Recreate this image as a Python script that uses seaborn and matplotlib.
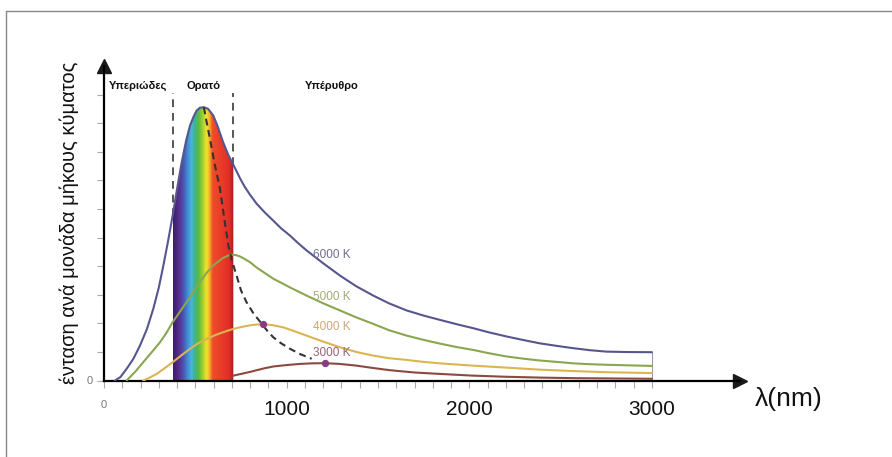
import numpy as np
import pandas as pd
import matplotlib.pyplot as plt
from matplotlib.colors import LinearSegmentedColormap
from matplotlib.lines import Line2D
import seaborn as sns

# wavelength (nm) / intensity readings (arbitrary units, 10 per y tick)
wl_6000 = [60, 90, 124, 160, 197, 235, 270, 300, 325, 350, 376, 400, 425, 450, 471, 490, 507, 525, 547,
           570, 598, 620, 653, 680, 708, 744, 770, 799, 836, 880, 927, 970, 1018, 1060, 1109, 1200,
           1292, 1380, 1474, 1560, 1657, 1750, 1839, 1930, 2021, 2110, 2204, 2300, 2386, 2480, 2569,
           2660, 2751, 2870, 3000]
int_6000 = [0, 1.2, 4.1, 7.5, 12.2, 18.0, 25.1, 32.5, 40.2, 48.5, 57.7, 67.0, 76.2, 84.0, 89.2, 92.2, 94.4, 95.4, 95.6,
            95.0, 92.7, 89.3, 83.2, 79.0, 75.5, 70.8, 67.8, 65.0, 61.8, 58.8, 55.9, 53.2, 50.7, 48.2, 45.5, 41.0,
            36.7, 33.0, 29.7, 27.0, 24.5, 22.7, 21.2, 19.7, 18.3, 16.8, 15.4, 14.1, 13.0, 12.1, 11.3,
            10.6, 10.1, 9.95, 9.9]

wl_5000 = [124, 170, 215, 260, 307, 340, 376, 415, 452, 490, 525, 560, 598, 650, 690, 720, 744, 770, 799,
           836, 880, 927, 1020, 1109, 1200, 1292, 1380, 1474, 1560, 1657, 1750, 1839, 1930, 2021, 2110,
           2204, 2300, 2386, 2480, 2569, 2660, 2751, 2870, 3000]
int_5000 = [0, 3.0, 6.4, 9.8, 13.4, 16.5, 20.4, 24.0, 27.4, 31.0, 34.4, 37.5, 40.2, 42.8, 44.0, 43.9, 43.4, 42.5, 41.4,
            39.5, 37.6, 35.6, 32.5, 29.7, 27.0, 24.5, 22.1, 19.8, 17.6, 15.7, 14.2, 12.9, 11.7, 10.7, 9.5,
            8.4, 7.6, 7.0, 6.5, 6.0, 5.7, 5.5, 5.3, 5.1]

wl_4000 = [215, 250, 288, 330, 376, 420, 471, 515, 562, 610, 653, 700, 744, 799, 840, 872, 920, 981, 1040,
           1109, 1200, 1292, 1380, 1474, 1560, 1657, 1750, 1839, 2021, 2204, 2386, 2569, 2751, 3000]
int_4000 = [0, 1.0, 2.3, 4.2, 6.4, 8.6, 11.1, 13.0, 14.6, 15.9, 16.9, 17.9, 18.6, 19.3, 19.6, 19.65, 19.4, 18.6, 17.3,
            15.7, 13.6, 11.6, 10.0, 8.7, 7.8, 7.2, 6.5, 6.0, 5.2, 4.5, 3.8, 3.3, 2.9, 2.6]

wl_3000 = [708, 750, 799, 836, 880, 927, 1000, 1073, 1140, 1210, 1290, 1383, 1470, 1565, 1700, 1839,
           2021, 2204, 2400, 2600, 2800, 3000]
int_3000 = [1.7, 2.3, 3.0, 3.6, 4.3, 4.9, 5.4, 5.8, 6.0, 6.05, 5.8, 5.2, 4.4, 3.6, 2.8, 2.3,
            1.7, 1.3, 1.0, 0.8, 0.7, 0.6]

# Wien displacement (dashed) line
wl_wien = [547, 560, 580, 605, 635, 660, 681, 700, 726, 750, 781, 820, 863, 895, 927, 970, 1018, 1075, 1137]
int_wien = [95.5, 91.0, 84.6, 76.0, 67.1, 56.0, 47.2, 42.0, 36.7, 31.5, 27.3, 23.3, 19.9, 17.3, 15.1, 13.0, 11.1, 9.2, 7.6]

temps = ["6000 K", "5000 K", "4000 K", "3000 K"]
line_colors = ["#56568f", "#8aa64e", "#dcb452", "#8c4a3e"]
label_colors = ["#6e6e90", "#a0aa72", "#cfa676", "#9a6272"]
label_y = [43.9, 29.3, 18.8, 9.5]

band_lo, band_hi = 376, 708
regions = ["Υπεριώδες", "Ορατό", "Υπέρυθρο"]
region_x = [186, 545, 1248]

x_ticks = [0, 1000, 2000, 3000]

df = pd.concat([
    pd.DataFrame({"wl": w, "I": i, "T": t})
    for w, i, t in zip([wl_6000, wl_5000, wl_4000, wl_3000],
                       [int_6000, int_5000, int_4000, int_3000], temps)
])

sns.set_theme(style="white")
plt.rcParams["font.family"] = ["Liberation Sans", "DejaVu Sans"]

fig = plt.figure(figsize=(8.92, 4.57), dpi=100)
ax = fig.add_axes([104 / 892, 76.5 / 457, 636 / 892, 314.5 / 457])

# rainbow of the visible band, clipped under the 6000 K curve
rainbow = LinearSegmentedColormap.from_list("vis", [
    (0.00, "#3a1d6a"), (0.10, "#5b2e8f"), (0.17, "#4a55b5"), (0.24, "#3f8fd5"),
    (0.30, "#4ab5dc"), (0.36, "#3fb38a"), (0.42, "#58bb3e"), (0.49, "#a5cf32"),
    (0.55, "#f3e42a"), (0.60, "#f6ae2a"), (0.65, "#ee4d2b"), (0.92, "#e32e28"),
    (1.00, "#a01f22")])
w6 = np.array(wl_6000)
i6 = np.array(int_6000)
m = (w6 >= band_lo) & (w6 <= band_hi)
poly = ax.fill_between(w6[m], 0, i6[m], facecolor="none", edgecolor="none")
im = ax.imshow(np.linspace(0, 1, 256)[None, :], cmap=rainbow, aspect="auto",
               extent=[band_lo, band_hi, 0, 100], zorder=2)
im.set_clip_path(poly.get_paths()[0], transform=ax.transData)

# band limits
top_v = 100.5
ax.vlines([band_lo, band_hi], [np.interp(band_lo, w6, i6), np.interp(band_hi, w6, i6)], top_v,
          colors="#555555", linestyles=(0, (4, 3)), linewidth=1.4, zorder=1)

sns.lineplot(data=df, x="wl", y="I", hue="T", palette=dict(zip(temps, line_colors)),
             linewidth=1.5, legend=False, ax=ax, zorder=3)
ax.vlines(3000, 0, int_6000[-1], colors="#9a9ab0", linewidth=0.8, zorder=2)

sns.lineplot(x=wl_wien, y=int_wien, color="#333333", linewidth=1.5,
             linestyle=(0, (3.3, 2.2)), ax=ax, zorder=4)

peaks_w = [wl_4000[int(np.argmax(int_4000))], wl_3000[int(np.argmax(int_3000))]]
peaks_i = [max(int_4000), max(int_3000)]
ax.scatter(peaks_w, peaks_i, s=18, color="#8a3a86", zorder=5)

for t, c, y in zip(temps, label_colors, label_y):
    ax.text(1142, y, t, color=c, fontsize=8.5, va="center", ha="left")

for r, x in zip(regions, region_x):
    ax.text(x, 103, r, fontsize=8, fontweight="bold", ha="center", va="center", color="#111111")

ax.set_xlim(0, 3482)
ax.set_ylim(0, 110)
ax.set_xlabel("")
ax.set_ylabel("")

# axes with arrows
sns.despine(ax=ax)
for s in ["left", "bottom"]:
    ax.spines[s].set_color("black")
    ax.spines[s].set_linewidth(1.6)
ax.plot(1, 0, ">k", ms=10, transform=ax.transAxes, clip_on=False)
ax.plot(0, 1, "^k", ms=10, transform=ax.transAxes, clip_on=False)

ax.set_xticks(x_ticks)
ax.set_xticklabels([str(v) for v in x_ticks])
ax.set_xticks(np.arange(0, 3001, 100), minor=True)
ax.tick_params(axis="x", which="both", direction="out", length=5, width=0.8,
               color="#aaaaaa", bottom=True, pad=9, labelsize=15, labelcolor="#111111")
lab = ax.get_xticklabels()
lab[0].set_fontsize(8)
lab[0].set_color("#777777")

ax.set_yticks(np.arange(0, 101, 10))
ax.set_yticklabels(["0"] + [""] * 10)
ax.tick_params(axis="y", direction="out", length=5, width=0.8, color="#aaaaaa",
               left=True, labelsize=8, labelcolor="#777777", pad=3)

fig.text(69 / 892, 1 - 223 / 457, "ένταση ανά μονάδα μήκους κύματος", rotation=90,
         ha="center", va="center", fontsize=14.5, color="#111111")
fig.text(789 / 892, 1 - 399 / 457, "λ(nm)", ha="center", va="center", fontsize=19, color="#111111")

# picture frame
fig.add_artist(Line2D([6 / 892, 1], [1 - 10.5 / 457] * 2, color="#888888", lw=1))
fig.add_artist(Line2D([6 / 892] * 2, [0, 1 - 10.5 / 457], color="#888888", lw=1))

fig.savefig("out.png", dpi=100)
